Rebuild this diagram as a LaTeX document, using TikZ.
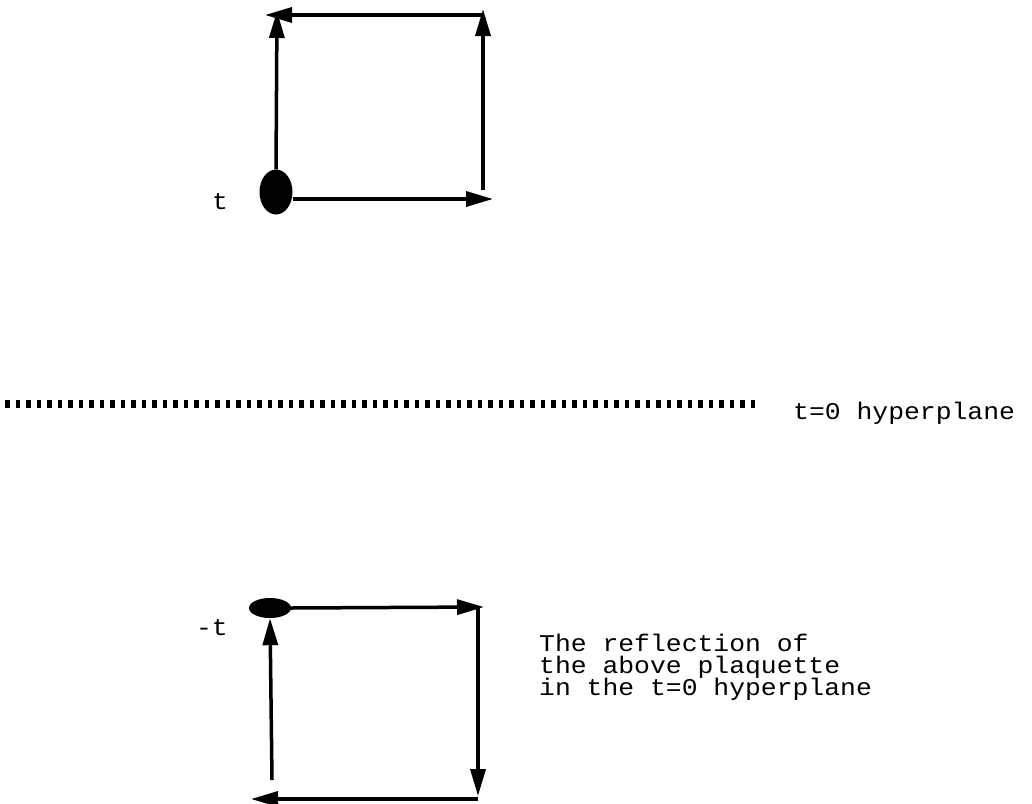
\documentclass[tikz,border=0pt]{standalone}
\usepackage{fontspec}
\setmonofont[FakeStretch=1.1]{Liberation Mono}
\usetikzlibrary{arrows.meta,shapes.geometric}
\newcommand{\notefont}{\fontsize{24}{22}\selectfont\ttfamily\lineskiplimit=-100pt\relax}
\tikzset{edge/.style={line width=3.5pt,-{Triangle[length=27pt,width=15pt]}},dot/.style={ellipse,fill=black,inner sep=0pt},label/.style={font=\notefont,inner sep=0pt},note/.style={label,align=left},plane/.style={line width=8pt,dash pattern=on 4.5pt off 6pt}}
\begin{document}
\begin{tikzpicture}[x=1pt,y=-1pt]
\useasboundingbox (0,0) rectangle (1032,803);
% plaquette at t
\node[dot,minimum width=33pt,minimum height=45pt] (dotA) at (276,192) {};
\coordinate (trA) at (484,15);
\coordinate (tlA) at (265,15);
\coordinate (topA) at (277,11);
\coordinate (brA) at (483,190);
\coordinate (rtipA) at (483,9);
\coordinate (btipA) at (493,199);
\node[label,anchor=base] (tA) at (220,209) {t};
\draw[edge] (dotA.north) -- (topA);
\draw[edge] (trA) -- (tlA);
\draw[edge] (brA) -- (rtipA);
\draw[edge] (dotA.east |- btipA) -- (btipA);
% t=0 hyperplane
\coordinate (pl) at (5,404);
\coordinate (pr) at (757,404);
\draw[plane] (pl) -- (pr);
\node[label,anchor=base west] (hyp) at (793,419) {t=0 hyperplane};
% reflected plaquette at -t
\node[dot,minimum width=42pt,minimum height=20pt] (dotB) at (270,608) {};
\coordinate (trB) at (484,607);
\coordinate (rtB) at (478,607);
\coordinate (rbB) at (478,796);
\coordinate (brB) at (478,799);
\coordinate (blB) at (251,799);
\coordinate (lbB) at (272,780);
\node[label,anchor=base east] (tB) at (228,635) {-t};
\draw[edge] (dotB.east) -- (trB);
\draw[edge] (rtB) -- (rbB);
\draw[edge] (brB) -- (blB);
\draw[edge] (lbB) -- (dotB.south);
\node[note,anchor=base west] (refl) at (539,695) {The reflection of\\the above plaquette\\in the t=0 hyperplane};
\end{tikzpicture}
\end{document}
